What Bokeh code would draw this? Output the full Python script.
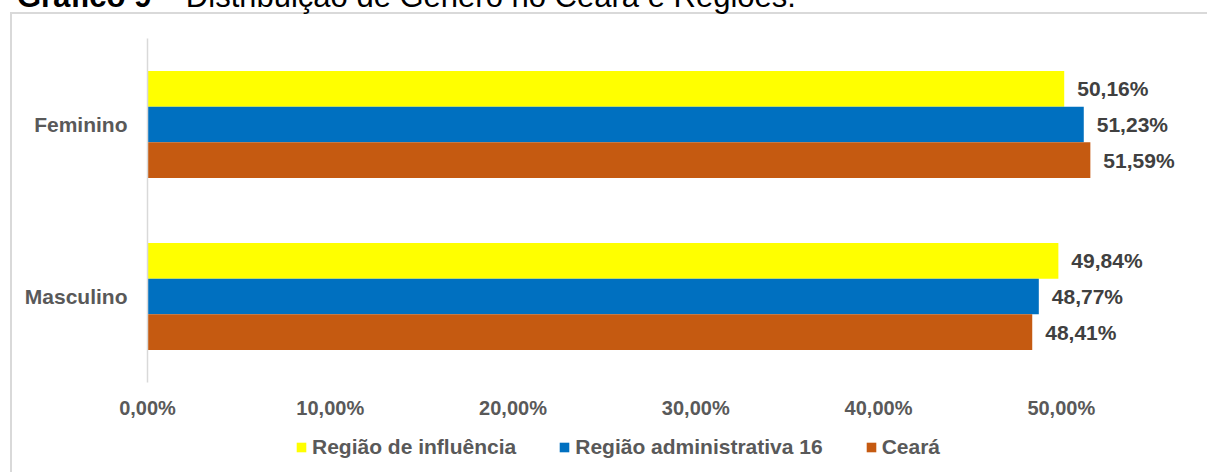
from bokeh.plotting import figure
from bokeh.layouts import column
from bokeh.models import (ColumnDataSource, FactorRange, Range1d, FixedTicker, LabelSet,
                          Legend, LegendItem, Div)
from bokeh.transform import dodge
from bokeh.core.properties import value
from bokeh.embed import file_html
from bokeh.resources import INLINE

title_bold = "Gráfico 9"
title_rest = " – Distribuição de Gênero no Ceará e Regiões."
categories = ["Masculino", "Feminino"]
series_names = ["Região de influência", "Região administrativa 16", "Ceará"]
regiao_influencia = [49.84, 50.16]
regiao_adm16 = [48.77, 51.23]
ceara = [48.41, 51.59]
tick_values = [0, 10, 20, 30, 40, 50]
tick_labels = ["0,00%", "10,00%", "20,00%", "30,00%", "40,00%", "50,00%"]
colors = ["#FFFF00", "#0070C0", "#C55A11"]

def fmt(v):
    return f"{v:.2f}%".replace(".", ",")

FONT = "Liberation Sans"
TXT = "#595959"

# title strip (only the lower part of the title is visible in the reference)
title_div = Div(
    text=(f'<div style="position:relative; top:-19px; left:17px; white-space:nowrap; '
          f'font-family:\'{FONT}\'; font-size:31px; line-height:31px; color:#000;">'
          f'<b>{title_bold}</b>{title_rest}</div>'),
    width=1207, height=8, styles={"overflow": "visible", "margin": "0", "padding": "0"})

main = figure(width=1207, height=417, output_backend="svg", toolbar_location=None,
              y_range=FactorRange(factors=categories, range_padding=0),
              x_range=Range1d(0, 58.0),
              min_border_left=147, min_border_right=0, min_border_top=30, min_border_bottom=43)
main.outline_line_color = None
main.xgrid.grid_line_color = None
main.ygrid.grid_line_color = None
main.background_fill_alpha = 0
main.border_fill_alpha = 0

offsets = [0.207, 0.0, -0.207]
series = [regiao_influencia, regiao_adm16, ceara]
for vals, off, col in zip(series, offsets, colors):
    src = ColumnDataSource(dict(cat=categories, val=vals, lab=[fmt(v) for v in vals]))
    main.hbar(y=dodge("cat", off, range=main.y_range), right="val", left=0, height=0.207,
              source=src, fill_color=col, line_color=None)
    ls = LabelSet(x="val", y=dodge("cat", off, range=main.y_range), text="lab", source=src,
                  x_offset=13, text_baseline="middle", text_align="left",
                  text_font=value(FONT), text_font_style="bold",
                  text_font_size="21px", text_color="#404040")
    main.add_layout(ls)

main.xaxis.ticker = FixedTicker(ticks=tick_values)
main.xaxis.major_label_overrides = {t: l for t, l in zip(tick_values, tick_labels)}
main.xaxis.axis_line_color = None
main.xaxis.major_tick_line_color = None
main.xaxis.minor_tick_line_color = None
main.xaxis.major_label_text_font = FONT
main.xaxis.major_label_text_font_style = "bold"
main.xaxis.major_label_text_font_size = "20px"
main.xaxis.major_label_text_color = TXT
main.xaxis.major_label_standoff = 8

main.yaxis.axis_line_color = "#D9D9D9"
main.yaxis.axis_line_width = 1.5
main.yaxis.major_tick_line_color = None
main.yaxis.minor_tick_line_color = None
main.yaxis.major_label_text_font = FONT
main.yaxis.major_label_text_font_style = "bold"
main.yaxis.major_label_text_font_size = "21px"
main.yaxis.major_label_text_color = TXT
main.yaxis.major_label_standoff = 14

# legend strip below the axis (frame aligned with the main plot)
leg = figure(width=1207, height=47, output_backend="svg", toolbar_location=None,
             x_range=Range1d(0, 1), y_range=Range1d(0, 1),
             x_axis_type=None, y_axis_type=None,
             min_border_left=0, min_border_right=0, min_border_top=0, min_border_bottom=0)
leg.outline_line_color = None
leg.xgrid.grid_line_color = None
leg.ygrid.grid_line_color = None
leg.background_fill_alpha = 0
leg.border_fill_alpha = 0
items = []
for name, col in zip(series_names, colors):
    # swatch-only renderer: zero-width bar, nothing drawn in the strip itself
    r = leg.hbar(y=[3], right=[0], left=[0], height=0.0, fill_color=col, line_color=None)
    items.append(LegendItem(label=name, renderers=[r]))
legend = Legend(items=items, orientation="horizontal", location=(148, 13),
                glyph_width=12, glyph_height=12, label_standoff=5, spacing=42,
                padding=0, margin=0, border_line_color=None, background_fill_alpha=0,
                label_text_font=FONT, label_text_font_style="bold",
                label_text_font_size="21px", label_text_color=TXT)
leg.add_layout(legend, "center")

line_bg = ("linear-gradient(#D9D9D9,#D9D9D9) 10px 12px / 2px 600px no-repeat, "
           "linear-gradient(#D9D9D9,#D9D9D9) 10px 12px / 1400px 2px no-repeat, white")
layout = column(title_div, main, leg, spacing=0)
layout.styles = {"background": line_bg}

open("out.html", "w").write(file_html(layout, INLINE))
